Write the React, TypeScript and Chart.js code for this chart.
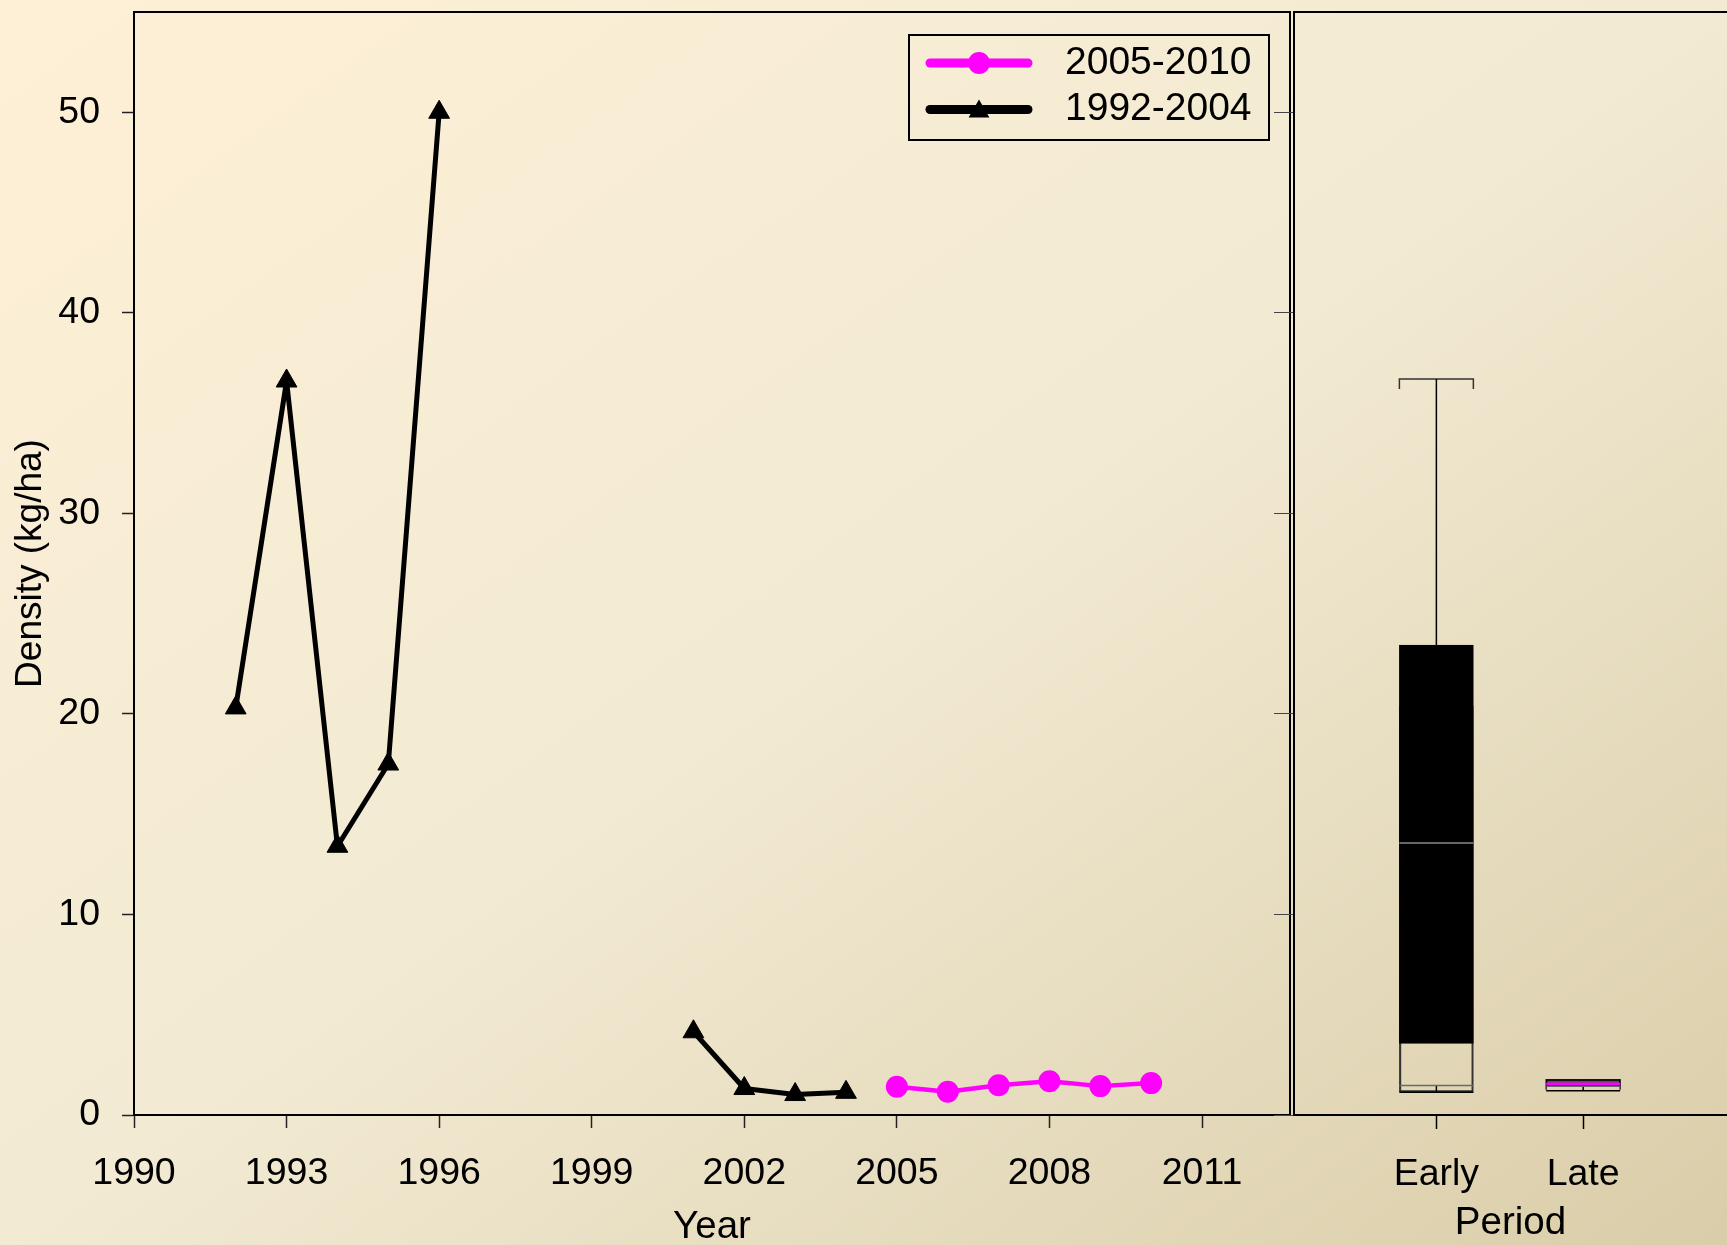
import React, { useEffect, useRef } from 'react';
import { Chart, registerables } from 'chart.js';

Chart.register(...registerables);

// ---------- data ----------
const seriesLabels = ['2005-2010', '1992-2004'];
const yearsLate = [2005, 2006, 2007, 2008, 2009, 2010];
const densityLate = [1.41, 1.16, 1.48, 1.68, 1.44, 1.59];
const yearsEarly = [1992, 1993, 1994, 1995, 1996, 1997, 1998, 1999, 2000, 2001, 2002, 2003, 2004];
const densityEarly = [20.3, 36.6, 13.4, 17.5, 50.0, null, null, null, null, 4.15, 1.32, 1.02, 1.13];

const xTickYears = [1990, 1993, 1996, 1999, 2002, 2005, 2008, 2011];
const yTickValues = [0, 10, 20, 30, 40, 50];

const boxCategories = ['Early', 'Late'];
const boxCapLow = [1.14, 1.21];
const boxQ1 = [1.47, 1.43];
const boxFrameLow = [1.14, 1.43];
const boxFrameHigh = [20.4, 1.76];
const boxFillLow = [3.57, 1.43];
const boxMedian = [13.56, 1.56];
const boxQ3 = [23.43, 1.76];
const boxCapHigh = [36.7, 1.76];

// ---------- styles ----------
const FONT = '"Liberation Sans", Arial, sans-serif';
const MAGENTA = '#FF00FF';
const boxFillColors = ['#000000', '#555555'];
const boxMedianColors = ['#8a8a8a', MAGENTA];
const BOX_PX = 74;
const HALF_W = 0.252; // half of box width in category units
const CAP_DROP = 0.5;

const zeroPad = (s: any) => {
  s.paddingTop = 0;
  s.paddingBottom = 0;
  s.paddingLeft = 0;
  s.paddingRight = 0;
};

const framePlugin = {
  id: 'frameAll',
  afterDraw(chart: any) {
    const { ctx, chartArea: a } = chart;
    ctx.save();
    ctx.strokeStyle = '#000';
    ctx.lineWidth = 2;
    ctx.strokeRect(a.left, a.top, a.right - a.left, a.bottom - a.top);
    ctx.restore();
  },
};

const topLinePlugin = {
  id: 'topLine',
  afterDraw(chart: any) {
    const { ctx, chartArea: a } = chart;
    ctx.save();
    ctx.strokeStyle = '#000';
    ctx.lineWidth = 2;
    ctx.beginPath();
    ctx.moveTo(a.left, a.top);
    ctx.lineTo(a.right, a.top);
    ctx.stroke();
    ctx.restore();
  },
};

const legendPlugin = {
  id: 'innerLegend',
  afterDraw(chart: any) {
    const ctx = chart.ctx;
    const x0 = 909, y0 = 35, w = 360, h = 105;
    ctx.save();
    ctx.lineWidth = 2;
    ctx.strokeStyle = '#000';
    ctx.strokeRect(x0, y0, w, h);
    chart.data.datasets.forEach((ds: any, i: number) => {
      const cy = y0 + 28 + i * 46.5;
      ctx.strokeStyle = ds.borderColor;
      ctx.lineWidth = 9;
      ctx.lineCap = 'round';
      ctx.beginPath();
      ctx.moveTo(x0 + 21, cy);
      ctx.lineTo(x0 + 119, cy);
      ctx.stroke();
      const mx = x0 + 70;
      ctx.fillStyle = ds.pointBackgroundColor;
      ctx.beginPath();
      if (ds.pointStyle === 'circle') {
        ctx.arc(mx, cy, 11, 0, Math.PI * 2);
      } else {
        const r = 12;
        const c = cy + 2;
        ctx.moveTo(mx, c - r);
        ctx.lineTo(mx + r * Math.sin(Math.PI / 3), c + r / 2);
        ctx.lineTo(mx - r * Math.sin(Math.PI / 3), c + r / 2);
        ctx.closePath();
      }
      ctx.fill();
      ctx.fillStyle = '#000';
      ctx.font = `39px ${FONT}`;
      ctx.textAlign = 'left';
      ctx.textBaseline = 'middle';
      ctx.fillText(ds.label, x0 + 156, cy);
    });
    ctx.restore();
  },
};

export default function App() {
  const leftRef = useRef<HTMLCanvasElement>(null);
  const rightRef = useRef<HTMLCanvasElement>(null);

  useEffect(() => {
    Chart.defaults.color = '#000';
    Chart.defaults.font.family = FONT;

    const left = new Chart(leftRef.current as HTMLCanvasElement, {
      type: 'line',
      data: {
        datasets: [
          {
            label: seriesLabels[0],
            data: yearsLate.map((x, i) => ({ x, y: densityLate[i] })),
            borderColor: MAGENTA,
            backgroundColor: MAGENTA,
            pointBackgroundColor: MAGENTA,
            pointBorderColor: MAGENTA,
            pointBorderWidth: 0,
            borderWidth: 4.5,
            pointStyle: 'circle',
            pointRadius: 11,
            tension: 0,
            borderJoinStyle: 'round',
          } as any,
          {
            label: seriesLabels[1],
            data: yearsEarly.map((x, i) => ({ x, y: densityEarly[i] })),
            borderColor: '#000',
            backgroundColor: '#000',
            pointBackgroundColor: '#000',
            pointBorderColor: '#000',
            pointBorderWidth: 1,
            borderWidth: 5,
            pointStyle: 'triangle',
            pointRadius: 12,
            tension: 0,
            spanGaps: false,
            borderJoinStyle: 'round',
          } as any,
        ],
      },
      options: {
        responsive: false,
        animation: false,
        devicePixelRatio: 1,
        layout: { autoPadding: false, padding: { top: 12, right: 10, left: 0, bottom: 0 } },
        plugins: { legend: { display: false }, tooltip: { enabled: false } },
        scales: {
          x: {
            type: 'linear',
            min: 1990,
            max: 2012.73,
            offset: false,
            afterBuildTicks: (s: any) => {
              s.ticks = xTickYears.map((v) => ({ value: v }));
            },
            afterFit: (s: any) => {
              s.height = 130;
              zeroPad(s);
            },
            grid: { offset: false, drawOnChartArea: false, drawTicks: true, tickLength: 13, color: '#222', tickColor: '#222', tickWidth: 1.5 },
            border: { display: true, color: '#000', width: 2 },
            ticks: {
              autoSkip: false,
              maxRotation: 0,
              padding: 23,
              color: '#000',
              font: { size: 37.5, family: FONT, lineHeight: 1.2 },
              callback: (v: any) => String(v),
            },
            title: {
              display: true,
              text: 'Year',
              color: '#000',
              font: { size: 38.5, family: FONT, lineHeight: 0.92 },
              padding: { top: 0, bottom: 0 },
            },
          },
          y: {
            type: 'linear',
            min: 0,
            max: 55,
            afterBuildTicks: (s: any) => {
              s.ticks = yTickValues.map((v) => ({ value: v }));
            },
            afterFit: (s: any) => {
              s.width = 134;
              zeroPad(s);
            },
            grid: { drawOnChartArea: false, drawTicks: true, tickLength: 12, color: '#222', tickColor: '#222', tickWidth: 1.5 },
            border: { display: true, color: '#000', width: 2 },
            ticks: {
              padding: 22,
              color: '#000',
              font: { size: 37.5, family: FONT, lineHeight: 1.2 },
              callback: (v: any) => String(v),
            },
            title: {
              display: true,
              text: 'Density (kg/ha)',
              color: '#000',
              font: { size: 37, family: FONT, lineHeight: 1.2 },
              padding: { top: 9, bottom: 0 },
            },
          },
        },
      },
      plugins: [framePlugin, legendPlugin],
    } as any);

    const boxDatasets: any[] = [];
    boxCategories.forEach((_, i) => {
      // median line (top)
      boxDatasets.push({
        type: 'line',
        data: [
          { x: i - HALF_W, y: boxMedian[i] },
          { x: i + HALF_W, y: boxMedian[i] },
        ],
        borderColor: boxMedianColors[i],
        borderWidth: i === 0 ? 1.5 : 2.5,
        pointRadius: 0,
        order: 1,
      });
      // q1 line
      boxDatasets.push({
        type: 'line',
        data: [
          { x: i - HALF_W, y: boxQ1[i] },
          { x: i + HALF_W, y: boxQ1[i] },
        ],
        borderColor: '#6a6a6a',
        borderWidth: 1.5,
        pointRadius: 0,
        order: 2,
      });
      // lower cap + whisker
      boxDatasets.push({
        type: 'line',
        data: [
          { x: i - HALF_W, y: boxCapLow[i] },
          { x: i + HALF_W, y: boxCapLow[i] },
        ],
        borderColor: '#000',
        borderWidth: 1.5,
        pointRadius: 0,
        order: 2,
      });
      boxDatasets.push({
        type: 'line',
        data: [
          { x: i, y: boxCapLow[i] },
          { x: i, y: boxQ1[i] },
        ],
        borderColor: '#000',
        borderWidth: 1.5,
        pointRadius: 0,
        order: 2,
      });
      // fill box
      boxDatasets.push({
        type: 'bar',
        data: [{ x: i, y: [boxFillLow[i], boxQ3[i]] }],
        backgroundColor: boxFillColors[i],
        borderColor: '#000',
        borderWidth: 1.5,
        borderSkipped: false,
        barThickness: BOX_PX,
        grouped: false,
        order: 3,
      });
      // frame box
      boxDatasets.push({
        type: 'bar',
        data: [{ x: i, y: [boxFrameLow[i], boxFrameHigh[i]] }],
        backgroundColor: 'rgba(0,0,0,0)',
        borderColor: '#333',
        borderWidth: 1.5,
        borderSkipped: false,
        barThickness: BOX_PX,
        grouped: false,
        order: 4,
      });
      // upper whisker + cap
      boxDatasets.push({
        type: 'line',
        data: [
          { x: i, y: boxQ3[i] },
          { x: i, y: boxCapHigh[i] },
        ],
        borderColor: '#000',
        borderWidth: 1.5,
        pointRadius: 0,
        order: 5,
      });
      boxDatasets.push({
        type: 'line',
        data: [
          { x: i - HALF_W, y: boxCapHigh[i] - CAP_DROP },
          { x: i - HALF_W, y: boxCapHigh[i] },
          { x: i + HALF_W, y: boxCapHigh[i] },
          { x: i + HALF_W, y: boxCapHigh[i] - CAP_DROP },
        ],
        borderColor: '#333',
        borderWidth: 1.5,
        pointRadius: 0,
        order: 5,
      });
    });

    const right = new Chart(rightRef.current as HTMLCanvasElement, {
      type: 'bar',
      data: { datasets: boxDatasets },
      options: {
        responsive: false,
        animation: false,
        devicePixelRatio: 1,
        layout: { autoPadding: false, padding: { top: 12, right: 0, left: 0, bottom: 0 } },
        plugins: { legend: { display: false }, tooltip: { enabled: false } },
        scales: {
          x: {
            type: 'linear',
            min: -0.97,
            max: 1.98,
            offset: false,
            afterBuildTicks: (s: any) => {
              s.ticks = boxCategories.map((_, i) => ({ value: i }));
            },
            afterFit: (s: any) => {
              s.height = 130;
              zeroPad(s);
            },
            grid: { offset: false, drawOnChartArea: false, drawTicks: true, tickLength: 14, color: '#000', tickColor: '#000', tickWidth: 1.5 },
            border: { display: true, color: '#000', width: 2 },
            ticks: {
              autoSkip: false,
              maxRotation: 0,
              padding: 23,
              color: '#000',
              font: { size: 37.5, family: FONT, lineHeight: 1.2 },
              callback: (v: any) => boxCategories[Math.round(Number(v))] ?? '',
            },
            title: {
              display: true,
              text: 'Period',
              color: '#000',
              font: { size: 38.5, family: FONT, lineHeight: 1.14 },
              padding: { top: 0, bottom: 0 },
            },
          },
          y: {
            type: 'linear',
            min: 0,
            max: 55,
            offset: false,
            afterBuildTicks: (s: any) => {
              s.ticks = yTickValues.map((v) => ({ value: v }));
            },
            afterFit: (s: any) => {
              s.width = 44;
              zeroPad(s);
            },
            grid: { offset: false, drawOnChartArea: false, drawTicks: true, tickLength: 20, color: '#444', tickColor: '#444', tickWidth: 1 },
            border: { display: true, color: '#000', width: 2 },
            ticks: { display: false },
          },
        },
      },
      plugins: [topLinePlugin],
    } as any);

    return () => {
      left.destroy();
      right.destroy();
    };
  }, []);

  return (
    <div
      style={{
        position: 'absolute',
        left: 0,
        top: 0,
        width: 1727,
        height: 1245,
        overflow: 'hidden',
        background: 'linear-gradient(to bottom right, #FEF0D6 0%, #F2EAD3 50%, #DACDA9 100%)',
      }}
    >
      <canvas
        ref={leftRef}
        width={1300}
        height={1245}
        style={{ position: 'absolute', left: 0, top: 0, width: 1300, height: 1245 }}
      />
      <canvas
        ref={rightRef}
        width={477}
        height={1245}
        style={{ position: 'absolute', left: 1250, top: 0, width: 477, height: 1245 }}
      />
    </div>
  );
}
